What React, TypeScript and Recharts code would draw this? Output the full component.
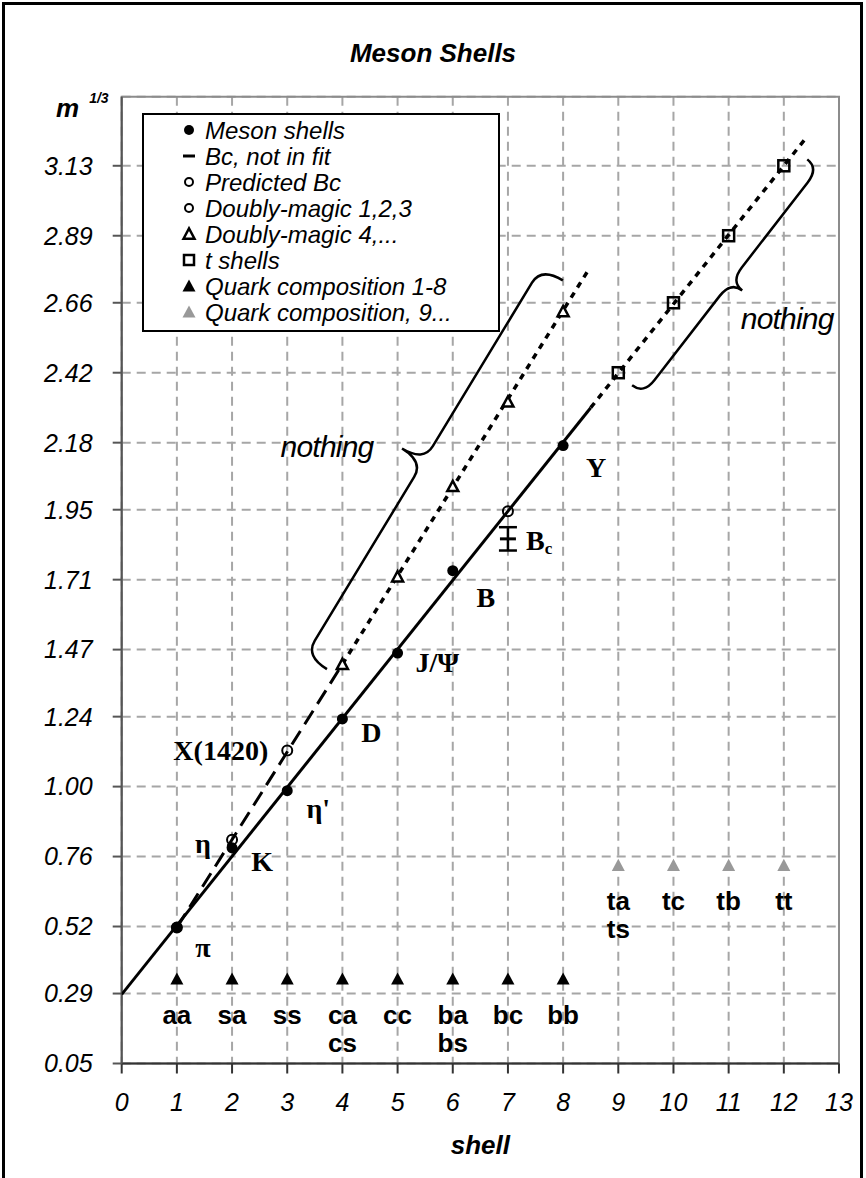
import React from "react";
import { ComposedChart, Scatter, XAxis, YAxis, CartesianGrid, ReferenceArea, ErrorBar, Legend } from "recharts";

const SANS = "'Liberation Sans', Arial, Helvetica, sans-serif";
const SERIF = "'Liberation Serif', 'Times New Roman', serif";

// axes
const xTicks = [0, 1, 2, 3, 4, 5, 6, 7, 8, 9, 10, 11, 12, 13];
const yTicks = [0.05, 0.29, 0.52, 0.76, 1.0, 1.24, 1.47, 1.71, 1.95, 2.18, 2.42, 2.66, 2.89, 3.13];
const yTop = 3.367;

// meson shells (in the fit)
const mesonShell = [1, 2, 3, 4, 5, 6, 8];
const mesonMass = [0.517, 0.79, 0.986, 1.232, 1.458, 1.741, 2.17];
const mesonName = ["π", "K", "η'", "D", "J/Ψ", "B", "Y"];

// fit line and its dashed continuation over the t shells
const fitX = [0, 8.5];
const fitY = [0.287, 2.3];
const tFitX = [8.5, 12.4];
const tFitY = [2.3, 3.225];

// Bc
const bcShell = [7];
const bcMeasured = [1.85];
const bcError = [0.04];
const bcPredicted = [1.945];

// doubly-magic
const dmLowShell = [1, 2, 3];
const dmLowMass = [0.517, 0.818, 1.124];
const dmLowName = ["", "η", "X(1420)"];
const dmHighShell = [4, 5, 6, 7, 8];
const dmHighMass = [1.42, 1.72, 2.03, 2.32, 2.63];
const dmDashX = [1, 4];
const dmDashY = [0.517, 1.42];
const dmDotX = [4, 8.45];
const dmDotY = [1.42, 2.77];

// t shells
const tShell = [9, 10, 11, 12];
const tMass = [2.42, 2.66, 2.89, 3.13];

// quark composition
const quarkShell = [1, 2, 3, 4, 5, 6, 7, 8];
const quarkLevel = [0.34, 0.34, 0.34, 0.34, 0.34, 0.34, 0.34, 0.34];
const quarkText = ["aa", "sa", "ss", "ca\ncs", "cc", "ba\nbs", "bc", "bb"];
const quarkHiShell = [9, 10, 11, 12];
const quarkHiLevel = [0.73, 0.73, 0.73, 0.73];
const quarkHiText = ["ta\nts", "tc", "tb", "tt"];

// "nothing" braces: tail, tip, tail
const braceLowX = [3.72, 5.08, 7.995];
const braceLowY = [1.403, 2.16, 2.737];
const braceHighX = [9.25, 11.246, 12.425];
const braceHighY = [2.377, 2.702, 3.152];

const legendItems = [
  { label: "Meson shells", icon: "dot" },
  { label: "Bc, not in fit", icon: "dash" },
  { label: "Predicted Bc", icon: "ring" },
  { label: "Doubly-magic 1,2,3", icon: "ring" },
  { label: "Doubly-magic 4,...", icon: "tri" },
  { label: "t shells", icon: "square" },
  { label: "Quark composition 1-8", icon: "triFill" },
  { label: "Quark composition, 9...", icon: "triGrey" },
];

// label placement, px from the marker centre
const labelPos: Record<string, { dx: number; dy: number; anchor: string }> = {
  "π": { dx: 26, dy: 20, anchor: "middle" },
  K: { dx: 30, dy: 14, anchor: "middle" },
  "η": { dx: -29, dy: 4, anchor: "middle" },
  "η'": { dx: 31, dy: 18, anchor: "middle" },
  "X(1420)": { dx: -19, dy: 0, anchor: "end" },
  D: { dx: 29, dy: 14, anchor: "middle" },
  "J/Ψ": { dx: 18, dy: 9, anchor: "start" },
  B: { dx: 33, dy: 27, anchor: "middle" },
  Y: { dx: 33, dy: 22, anchor: "middle" },
};

const zip = (xs: number[], ys: number[]) => xs.map((x, i) => ({ x, y: ys[i] }));

const mesonData = mesonShell.map((x, i) => ({ x, y: mesonMass[i], name: mesonName[i] }));
const dmLowData = dmLowShell.map((x, i) => ({ x, y: dmLowMass[i], name: dmLowName[i] }));
const bcData = bcShell.map((x, i) => ({ x, y: bcMeasured[i], err: bcError[i] }));
const quarkData = quarkShell.map((x, i) => ({ x, y: quarkLevel[i], name: quarkText[i] }));
const quarkHiData = quarkHiShell.map((x, i) => ({ x, y: quarkHiLevel[i], name: quarkHiText[i] }));

const none = () => <g />;

function PointName({ cx, cy, name }: any) {
  const p = labelPos[name];
  if (!p) return null;
  return (
    <text x={cx + p.dx} y={cy + p.dy} textAnchor={p.anchor} dominantBaseline="central"
      fontFamily={SERIF} fontWeight="bold" fontSize={28} fill="#000">{name}</text>
  );
}

const dotShape = (props: any) => (
  <g>
    <circle cx={props.cx} cy={props.cy} r={5.5} fill="#000" />
    <PointName cx={props.cx} cy={props.cy} name={props.payload.name} />
  </g>
);

const ringShape = (props: any) => (
  <g>
    <circle cx={props.cx} cy={props.cy} r={5} fill="none" stroke="#000" strokeWidth={2} />
    {props.payload.name ? <PointName cx={props.cx} cy={props.cy} name={props.payload.name} /> : null}
  </g>
);

const triPath = (cx: number, cy: number, s: number) =>
  `M${cx - s / 2},${cy + s * 0.43} L${cx},${cy - s * 0.5} L${cx + s / 2},${cy + s * 0.43} Z`;

const openTriShape = (props: any) => (
  <path d={triPath(props.cx, props.cy, 11)} fill="#fff" stroke="#000" strokeWidth={2.5} strokeLinejoin="miter" />
);

const squareShape = (props: any) => (
  <rect x={props.cx - 5.5} y={props.cy - 5.5} width={11} height={11} fill="none" stroke="#000" strokeWidth={2.5} />
);

const bcShape = (props: any) => (
  <g>
    <line x1={props.cx - 8} x2={props.cx + 8} y1={props.cy} y2={props.cy} stroke="#000" strokeWidth={3} />
    <text x={props.cx + 18} y={props.cy + 2} dominantBaseline="central" fontFamily={SERIF} fontWeight="bold" fontSize={28} fill="#000">
      B<tspan fontSize={17} dy={7}>c</tspan>
    </text>
  </g>
);

const quarkShape = (color: string) => (props: any) => {
  const lines = String(props.payload.name).split("\n");
  return (
    <g>
      <path d={triPath(props.cx, props.cy, 13)} fill={color} />
      <text x={props.cx} y={props.cy + 45} textAnchor="middle" fontFamily={SANS} fontWeight="bold" fontSize={26} fill="#000">
        {lines.map((t, i) => (
          <tspan key={i} x={props.cx} dy={i === 0 ? 0 : 28}>{t}</tspan>
        ))}
      </text>
    </g>
  );
};

// curly brace through tail, tip, tail (pixel points from the scales)
const braceLine = (textDx: number, textDy: number) => (props: any) => {
  const [a, tip, b] = props.points;
  const L = Math.hypot(b.x - a.x, b.y - a.y);
  const u = { x: (b.x - a.x) / L, y: (b.y - a.y) / L };
  let n = { x: -u.y, y: u.x };
  if ((tip.x - a.x) * n.x + (tip.y - a.y) * n.y < 0) n = { x: -n.x, y: -n.y };
  const h = (tip.x - a.x) * n.x + (tip.y - a.y) * n.y;
  const t = (tip.x - a.x) * u.x + (tip.y - a.y) * u.y;
  const w = Math.min(18, L / 10);
  const G = (p: number, q: number) => `${a.x + p * u.x + q * n.x},${a.y + p * u.y + q * n.y}`;
  const d = `M${G(0, 0)} Q${G(0, h / 2)} ${G(w, h / 2)} L${G(t - w, h / 2)} Q${G(t, h / 2)} ${G(t, h)} Q${G(t, h / 2)} ${G(t + w, h / 2)} L${G(L - w, h / 2)} Q${G(L, h / 2)} ${G(L, 0)}`;
  return (
    <g>
      <path d={d} fill="none" stroke="#000" strokeWidth={2.5} />
      <text x={tip.x + textDx} y={tip.y + textDy} textAnchor="middle" dominantBaseline="central"
        fontFamily={SANS} fontStyle="italic" fontSize={30} letterSpacing={-0.8} fill="#000">nothing</text>
    </g>
  );
};

function legendIcon(kind: string, cx: number, cy: number) {
  switch (kind) {
    case "dot":
      return <circle cx={cx} cy={cy} r={5} fill="#000" />;
    case "dash":
      return <line x1={cx - 6} x2={cx + 6} y1={cy} y2={cy} stroke="#000" strokeWidth={3} />;
    case "ring":
      return <circle cx={cx} cy={cy} r={4} fill="none" stroke="#000" strokeWidth={2} />;
    case "tri":
      return <path d={triPath(cx, cy, 11)} fill="#fff" stroke="#000" strokeWidth={2.5} />;
    case "square":
      return <rect x={cx - 5} y={cy - 5} width={10} height={10} fill="none" stroke="#000" strokeWidth={2.5} />;
    case "triFill":
      return <path d={triPath(cx, cy, 13)} fill="#000" />;
    default:
      return <path d={triPath(cx, cy, 13)} fill="#999" />;
  }
}

function LegendBox() {
  return (
    <div style={{ width: 358, height: 219, border: "2px solid #000", background: "#fff", boxSizing: "border-box" }}>
      <svg width={354} height={215}>
        {legendItems.map((it, i) => {
          const cy = 15 + 26 * i;
          return (
            <g key={it.label}>
              {legendIcon(it.icon, 45, cy)}
              <text x={61} y={cy} dominantBaseline="central" fontFamily={SANS} fontStyle="italic" fontSize={24} fill="#000">
                {it.label}
              </text>
            </g>
          );
        })}
      </svg>
    </div>
  );
}

const axisTick = { fontFamily: SANS, fontStyle: "italic", fontSize: 25, fill: "#000" };

export default function App() {
  return (
    <div style={{ position: "absolute", left: 0, top: 0, width: 866, height: 1178, background: "#fff", overflow: "hidden" }}>
      <ComposedChart width={866} height={1178} margin={{ top: 96.7, right: 27, bottom: 14.5, left: 21.7 }}
        style={{ position: "absolute", left: 0, top: 0 }}>
        <CartesianGrid stroke="#a6a6a6" strokeWidth={2} strokeDasharray="9 6" fill="none" />
        <ReferenceArea x1={0} x2={13} y1={0.05} y2={yTop} fill="none" stroke="#8c8c8c" strokeWidth={2} ifOverflow="visible" />
        <XAxis type="number" dataKey="x" domain={[0, 13]} ticks={xTicks} allowDataOverflow height={100}
          tick={axisTick} tickSize={10} tickMargin={20} stroke="#333" strokeWidth={2}
          label={{ value: "shell", position: "insideBottom", offset: 10, style: { fontFamily: SANS, fontStyle: "italic", fontWeight: "bold", fontSize: 26, fill: "#000" } }} />
        <YAxis type="number" dataKey="y" domain={[0.05, yTop]} ticks={yTicks} allowDataOverflow width={100}
          tick={axisTick} tickSize={9} tickMargin={20} stroke="#555" strokeWidth={2}
          tickFormatter={(v: number) => v.toFixed(2)}
          label={{
            content: () => (
              <text x={56} y={117} fontFamily={SANS} fontStyle="italic" fontWeight="bold" fontSize={26} fill="#000">
                m<tspan dx={10} dy={-14} fontSize={14}>1/3</tspan>
              </text>
            ),
          }} />
        <Legend content={() => <LegendBox />} verticalAlign="middle" layout="horizontal"
          wrapperStyle={{ left: 142, top: 113, width: 358, height: 219 }} />

        <Scatter data={zip(fitX, fitY)} shape={none} line={{ stroke: "#000", strokeWidth: 3 }} lineType="joint" legendType="none" isAnimationActive={false} />
        <Scatter data={zip(tFitX, tFitY)} shape={none} line={{ stroke: "#000", strokeWidth: 3.5, strokeDasharray: "6 6" }} lineType="joint" legendType="none" isAnimationActive={false} />
        <Scatter data={zip(dmDashX, dmDashY)} shape={none} line={{ stroke: "#000", strokeWidth: 3, strokeDasharray: "16 8" }} lineType="joint" legendType="none" isAnimationActive={false} />
        <Scatter data={zip(dmDotX, dmDotY)} shape={none} line={{ stroke: "#000", strokeWidth: 3.5, strokeDasharray: "6 6" }} lineType="joint" legendType="none" isAnimationActive={false} />
        <Scatter data={zip(braceLowX, braceLowY)} shape={none} line={braceLine(-75, -2)} lineType="joint" legendType="none" isAnimationActive={false} />
        <Scatter data={zip(braceHighX, braceHighY)} shape={none} line={braceLine(45, 28)} lineType="joint" legendType="none" isAnimationActive={false} />

        <Scatter name="Meson shells" data={mesonData} shape={dotShape} isAnimationActive={false} />
        <Scatter name="Bc, not in fit" data={bcData} shape={bcShape} isAnimationActive={false}>
          <ErrorBar dataKey="err" direction="y" width={9} stroke="#000" strokeWidth={2.5} />
        </Scatter>
        <Scatter name="Predicted Bc" data={zip(bcShell, bcPredicted)} shape={ringShape} isAnimationActive={false} />
        <Scatter name="Doubly-magic 1,2,3" data={dmLowData} shape={ringShape} isAnimationActive={false} />
        <Scatter name="Doubly-magic 4,..." data={zip(dmHighShell, dmHighMass)} shape={openTriShape} isAnimationActive={false} />
        <Scatter name="t shells" data={zip(tShell, tMass)} shape={squareShape} isAnimationActive={false} />
        <Scatter name="Quark composition 1-8" data={quarkData} shape={quarkShape("#000")} isAnimationActive={false} />
        <Scatter name="Quark composition, 9..." data={quarkHiData} shape={quarkShape("#999")} isAnimationActive={false} />
      </ComposedChart>
      <div style={{ position: "absolute", left: 0, top: 38, width: 866, textAlign: "center", fontFamily: SANS, fontStyle: "italic", fontWeight: "bold", fontSize: 26, lineHeight: "30px", color: "#000" }}>
        Meson Shells
      </div>
      <div style={{ position: "absolute", left: 2, top: 2, width: 861, height: 1200, border: "3px solid #000", boxSizing: "border-box", pointerEvents: "none" }} />
    </div>
  );
}
